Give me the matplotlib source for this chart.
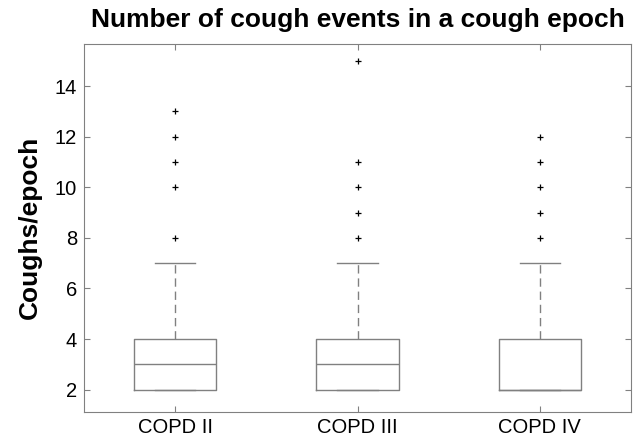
import matplotlib
matplotlib.use('Agg')
import matplotlib.pyplot as plt

plt.rcParams['font.family'] = ['Liberation Sans', 'DejaVu Sans']

groups = ['COPD II', 'COPD III', 'COPD IV']
q1 = [2, 2, 2]
medians = [3, 3, 2]
q3 = [4, 4, 4]
whisker_low = [2, 2, 2]
whisker_high = [7, 7, 7]
outliers = [
    [8, 10, 11, 12, 13],
    [8, 9, 10, 11, 15],
    [8, 9, 10, 11, 12],
]

stats = []
for i, name in enumerate(groups):
    stats.append({
        'label': name,
        'q1': q1[i], 'med': medians[i], 'q3': q3[i],
        'whislo': whisker_low[i], 'whishi': whisker_high[i],
        'fliers': outliers[i],
    })

fig = plt.figure(figsize=(6.35, 4.37), dpi=100)
ax = fig.add_axes([84 / 635, 1 - 411.5 / 437, (631 - 84) / 635, (411.5 - 44) / 437])

gray = '#808080'
ax.bxp(stats, positions=[1, 2, 3], widths=0.45,
       boxprops=dict(color=gray, linewidth=1.0),
       medianprops=dict(color=gray, linewidth=1.0),
       whiskerprops=dict(color=gray, linewidth=1.0, linestyle=(0, (6, 3.5))),
       capprops=dict(color=gray, linewidth=1.0),
       capwidths=0.22,
       flierprops=dict(marker='+', markeredgecolor='black', markersize=5,
                       markeredgewidth=0.9, linestyle='none'))

ax.set_xlim(0.5, 3.5)
ax.set_ylim(1.14, 15.66)
ax.set_yticks([2, 4, 6, 8, 10, 12, 14])
ax.set_xticks([1, 2, 3])
ax.set_xticklabels(groups)

for s in ax.spines.values():
    s.set_color(gray)
ax.tick_params(direction='in', length=4, color=gray, labelsize=14.5,
               top=True, right=True, pad=5)

ax.set_title('Number of cough events in a cough epoch', fontsize=19,
             fontweight='bold', pad=12)
ax.set_ylabel('Coughs/epoch', fontsize=19, fontweight='bold', labelpad=9)

fig.savefig('out.png', dpi=100)
